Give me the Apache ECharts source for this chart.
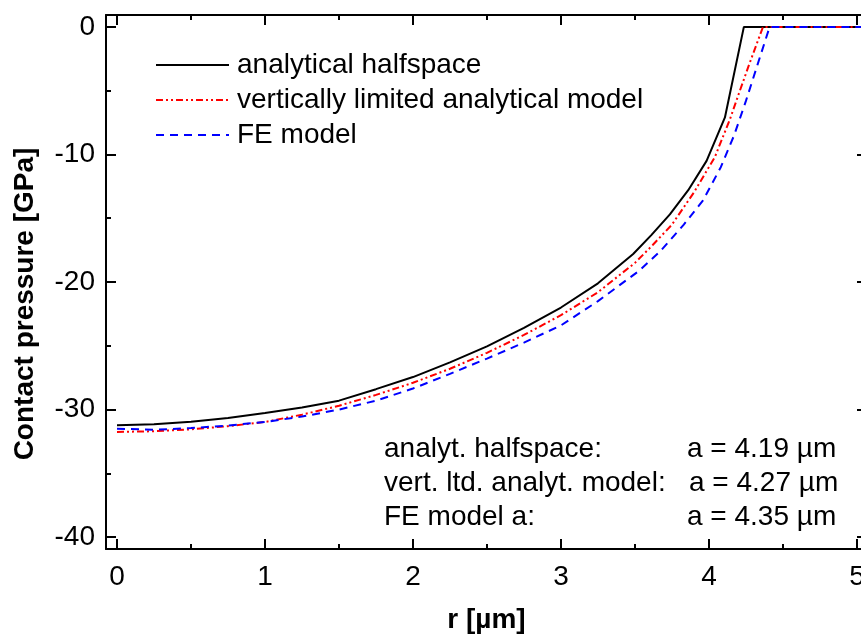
<!DOCTYPE html>
<html><head><meta charset="utf-8">
<script src="https://cdn.jsdelivr.net/npm/echarts@6/dist/echarts.min.js"></script>
<style>html,body{margin:0;padding:0;background:#fff;overflow:hidden}#c{width:870px;height:639px}</style>
</head><body><div id="c"></div>
<script>
// ---- data ----
const seriesNames = ['analytical halfspace', 'vertically limited analytical model', 'FE model'];
const rHalfspace = [0, 0.25, 0.5, 0.75, 1.0, 1.25, 1.5, 1.75, 2.0, 2.25, 2.5, 2.75, 3.0, 3.25, 3.488, 3.612, 3.736, 3.86, 3.984, 4.108, 4.236, 5.1];
const pHalfspace = [-31.23, -31.15, -30.95, -30.66, -30.27, -29.84, -29.3, -28.4, -27.45, -26.3, -25.05, -23.6, -22.0, -20.1, -17.8, -16.3, -14.7, -12.8, -10.5, -7.1, 0, 0];
const rVertLtd = [0, 0.25, 0.5, 0.75, 1.0, 1.25, 1.5, 1.75, 2.0, 2.25, 2.5, 2.75, 3.0, 3.25, 3.5, 3.62, 3.75, 3.9, 4.04, 4.14, 4.2, 4.27, 4.365, 5.1];
const pVertLtd = [-31.75, -31.7, -31.55, -31.3, -30.97, -30.4, -29.7, -28.85, -27.9, -26.8, -25.55, -24.15, -22.6, -20.8, -18.5, -17.1, -15.5, -12.95, -10.2, -7.3, -5.3, -3.0, 0, 0];
const rFE = [0, 0.25, 0.5, 0.75, 1.0, 1.25, 1.5, 1.75, 2.0, 2.25, 2.5, 2.75, 3.0, 3.25, 3.53, 3.67, 3.83, 3.96, 4.08, 4.17, 4.25, 4.33, 4.41, 5.1];
const pFE = [-31.5, -31.58, -31.45, -31.25, -30.97, -30.55, -30.0, -29.3, -28.35, -27.2, -26.0, -24.75, -23.4, -21.5, -19.1, -17.6, -15.5, -13.6, -11.0, -8.5, -5.8, -2.9, 0, 0];
const xMajorTicks = [0, 1, 2, 3, 4, 5];
const xMinorTicks = [0.5, 1.5, 2.5, 3.5, 4.5];
const yMajorTicks = [-40, -30, -20, -10, 0];
const yMinorTicks = [-35, -25, -15, -5];
const annotLeft = ['analyt. halfspace:', 'vert. ltd. analyt. model:', 'FE model a:'];
const annotRight = ['a = 4.19 µm', 'a = 4.27 µm', 'a = 4.35 µm'];

// ---- chart ----
const FONT = '"Liberation Sans", Arial, Helvetica, sans-serif';
const FS = 28;
const xMin = -0.0743, xMax = 5.068, yMin = -40.93, yMax = 0.934;
const pairs = (xs, ys) => xs.map((x, i) => [x, ys[i]]);

function xAx(pos, ticks, len, major) {
  return {
    type: 'value', position: pos, min: xMin, max: xMax,
    axisLine: { show: major, onZero: false, lineStyle: { color: '#000', width: 2 } },
    axisTick: { show: true, inside: true, length: len, customValues: ticks, lineStyle: { color: '#000', width: 2 } },
    axisLabel: (pos === 'bottom' && major) ? { show: true, customValues: ticks, color: '#000', fontSize: FS, fontFamily: FONT, margin: 14 } : { show: false },
    splitLine: { show: false }
  };
}
function yAx(pos, ticks, len, major) {
  return {
    type: 'value', position: pos, min: yMin, max: yMax,
    axisLine: { show: major, onZero: false, lineStyle: { color: '#000', width: 2 } },
    axisTick: { show: true, inside: true, length: len, customValues: ticks, lineStyle: { color: '#000', width: 2 } },
    axisLabel: (pos === 'left' && major) ? { show: true, customValues: ticks, color: '#000', fontSize: FS, fontFamily: FONT, margin: 11 } : { show: false },
    splitLine: { show: false }
  };
}

const xAxes = [xAx('bottom', xMajorTicks, 10, true), xAx('bottom', xMinorTicks, 5, false), xAx('top', xMajorTicks, 10, true), xAx('top', xMinorTicks, 5, false)];
xAxes[0].name = 'r [µm]';
xAxes[0].nameLocation = 'middle';
xAxes[0].nameGap = 57;
xAxes[0].nameTextStyle = { color: '#000', fontSize: FS, fontWeight: 'bold', fontFamily: FONT };
const yAxes = [yAx('left', yMajorTicks, 10, true), yAx('left', yMinorTicks, 5, false), yAx('right', yMajorTicks, 10, true), yAx('right', yMinorTicks, 5, false)];
yAxes[0].name = 'Contact pressure [GPa]';
yAxes[0].nameLocation = 'middle';
yAxes[0].nameGap = 67;
yAxes[0].nameTextStyle = { color: '#000', fontSize: FS, fontWeight: 'bold', fontFamily: FONT, padding: [0, 44, 0, 0] };

const graphics = [];
const rowY = [449, 483, 517];
annotLeft.forEach((t, i) => graphics.push({ type: 'text', x: 384, y: rowY[i], style: { text: t, font: FS + 'px ' + FONT, fill: '#000', verticalAlign: 'middle' } }));
const rightX = [687, 689, 687];
annotRight.forEach((t, i) => graphics.push({ type: 'text', x: rightX[i], y: rowY[i], style: { text: t, font: FS + 'px ' + FONT, fill: '#000', verticalAlign: 'middle' } }));

const option = {
  animation: false,
  backgroundColor: '#fff',
  grid: { left: 106, right: 3, top: 15, bottom: 86, containLabel: false },
  xAxis: xAxes,
  yAxis: yAxes,
  legend: {
    orient: 'vertical', left: 155, top: 51, padding: 0, itemWidth: 73, itemHeight: 20, itemGap: 7,
    itemStyle: { opacity: 0 },
    textStyle: { color: '#000', fontSize: FS, fontFamily: FONT, lineHeight: 28, padding: [0, 0, 0, 3] },
    data: seriesNames
  },
  graphic: graphics,
  series: [
    { name: seriesNames[0], type: 'line', xAxisIndex: 0, yAxisIndex: 0, symbol: 'none', data: pairs(rHalfspace, pHalfspace), lineStyle: { color: '#000', width: 2, type: 'solid' }, itemStyle: { color: '#000' }, z: 3 },
    { name: seriesNames[1], type: 'line', xAxisIndex: 0, yAxisIndex: 0, symbol: 'none', data: pairs(rVertLtd, pVertLtd), lineStyle: { color: '#ff0000', width: 2, type: [7, 3, 2, 3, 2, 3] }, itemStyle: { color: '#ff0000' }, z: 4 },
    { name: seriesNames[2], type: 'line', xAxisIndex: 0, yAxisIndex: 0, symbol: 'none', data: pairs(rFE, pFE), lineStyle: { color: '#0000ff', width: 2, type: [8, 6] }, itemStyle: { color: '#0000ff' }, z: 5 }
  ]
};
const chart = echarts.init(document.getElementById('c'), null, { renderer: 'canvas' });
chart.setOption(option);
</script></body></html>
